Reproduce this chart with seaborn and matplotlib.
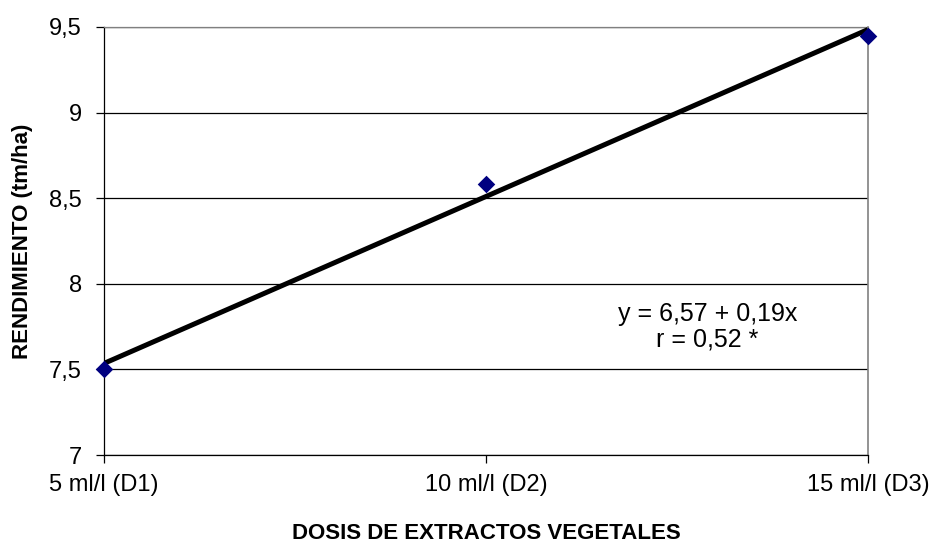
import matplotlib
matplotlib.use("Agg")
import matplotlib.pyplot as plt
import seaborn as sns
import pandas as pd

# Yield by dose of plant extracts
dose_ml = [5, 10, 15]
dose_labels = ["5 ml/l (D1)", "10 ml/l (D2)", "15 ml/l (D3)"]
yield_tm_ha = [7.50, 8.58, 9.45]
y_ticks = [7, 7.5, 8, 8.5, 9, 9.5]
y_tick_labels = ["7", "7,5", "8", "8,5", "9", "9,5"]
equation_text = "y = 6,57 + 0,19x\nr = 0,52 *"

df = pd.DataFrame({"dose": dose_ml, "yield": yield_tm_ha})

sns.set_style("white")
plt.rcParams["font.family"] = ["Liberation Sans", "DejaVu Sans"]
plt.rcParams["text.color"] = "black"
plt.rcParams["axes.labelcolor"] = "black"

fig = plt.figure(figsize=(9.32, 5.44), dpi=100)
ax = fig.add_axes([0.1116, 0.1636, 0.8197, 0.7868])

# least-squares trend line through the three doses
sns.regplot(data=df, x="dose", y="yield", ci=None, ax=ax,
            scatter=False, truncate=True,
            line_kws={"color": "black", "lw": 3.6, "solid_capstyle": "butt", "zorder": 3})
sns.scatterplot(data=df, x="dose", y="yield", ax=ax, marker="D", s=80,
                color="#000080", edgecolor="#000080", linewidth=0, zorder=4,
                clip_on=False)

ax.set_xlim(5, 15)
ax.set_ylim(7, 9.5)
ax.set_yticks(y_ticks)
ax.set_yticklabels(y_tick_labels)
ax.set_xticks(dose_ml)
ax.set_xticklabels(dose_labels)

ax.yaxis.grid(True, color="black", lw=0.9)
ax.set_axisbelow(True)
ax.tick_params(axis="both", which="major", labelsize=17, colors="black",
               direction="out", length=6, width=0.9, left=True, bottom=True)
ax.tick_params(axis="y", pad=10)
ax.tick_params(axis="x", pad=8)

for side in ["left", "bottom"]:
    ax.spines[side].set_color("black")
    ax.spines[side].set_linewidth(0.9)
ax.spines["right"].set_color("#808080")
ax.spines["right"].set_linewidth(1.2)
ax.spines["top"].set_color("#808080")
ax.spines["top"].set_linewidth(0.9)

ax.set_xlabel("DOSIS DE EXTRACTOS VEGETALES", fontsize=16, fontweight="bold")
ax.set_ylabel("RENDIMIENTO (tm/ha)", fontsize=16, fontweight="bold")
ax.xaxis.set_label_coords(0.5, -0.158)
ax.yaxis.set_label_coords(-0.093, 0.5)

ax.text(12.9, 7.75, equation_text, ha="center", va="center",
        multialignment="center", fontsize=18, linespacing=1.1)

fig.savefig("out.png", dpi=100, facecolor="white")
